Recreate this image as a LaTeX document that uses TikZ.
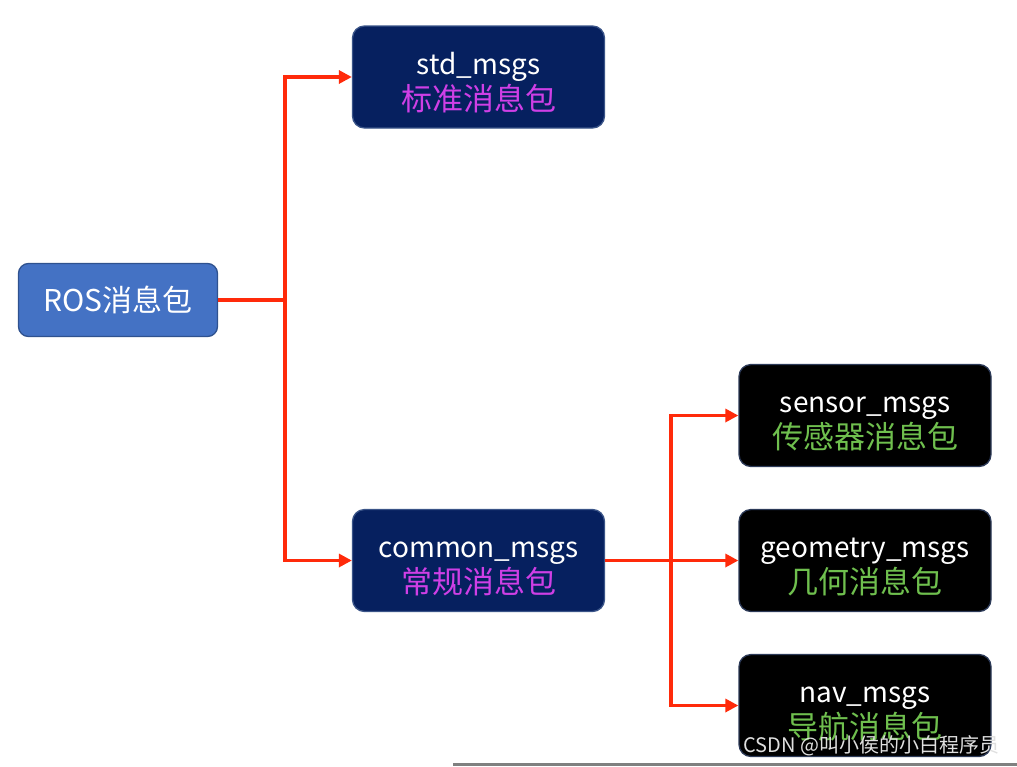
\documentclass[tikz,border=0pt]{standalone}
\usepackage{fontspec}
\setmainfont{Noto Sans CJK SC}
\usetikzlibrary{arrows.meta}

\definecolor{rosblue}{HTML}{4472C4}
\definecolor{rosedge}{HTML}{2F528F}
\definecolor{navyfill}{HTML}{06205F}
\definecolor{navyedge}{HTML}{3A5488}
\definecolor{blackedge}{HTML}{2C3A58}
\definecolor{pinktext}{HTML}{CF3FE6}
\definecolor{greentext}{HTML}{6FBF4E}
\definecolor{linkred}{HTML}{FF2A0A}

\newcommand{\cjkline}[2]{{\fontsize{31}{36}\selectfont\color{#1}#2}}
\newcommand{\topstrut}{\rule{0pt}{33pt}}

\begin{document}
\begin{tikzpicture}[x=1pt,y=-1pt, every node/.style={font=\fontsize{28}{36}\selectfont, text=white, align=center},
	pkg/.style={draw, line width=1.3pt, rounded corners=12pt, minimum width=252pt, minimum height=102pt, inner sep=0pt},
	link/.style={draw=linkred, line width=3.2pt, -{Triangle[length=13pt,width=13pt]}}]
	\useasboundingbox (0,0) rectangle (1017,766);
	\node[draw=rosedge, fill=rosblue, line width=1.3pt, rounded corners=10pt, minimum width=199pt, minimum height=73pt, font=\fontsize{30}{36}\selectfont] (ros) at (118,300) {ROS消息包};
	\node[pkg, draw=navyedge, fill=navyfill] (std) at (478.5,77) {\topstrut std\_msgs\\[0pt]\cjkline{pinktext}{标准消息包}};
	\node[pkg, draw=navyedge, fill=navyfill] (common) at (478.5,560.5) {\topstrut common\_msgs\\[0pt]\cjkline{pinktext}{常规消息包}};
	\foreach \n/\t/\c/\y in {sensor/sensor\_msgs/传感器消息包/415.5, geometry/geometry\_msgs/几何消息包/560.5, nav/nav\_msgs/导航消息包/705.5} {
		\node[pkg, draw=blackedge, fill=black] (\n) at (865,\y) {\topstrut\t\\[0pt]\cjkline{greentext}{\c}};
	}
	\coordinate (fork) at (285,300);
	\coordinate (subfork) at (671,560.5);
	\draw[link] (ros.east) -- (fork) |- (std.west);
	\draw[link] (fork) |- (common.west);
	\draw[link] (common.east) -- (geometry.west);
	\draw[link] (subfork) |- (sensor.west);
	\draw[link] (subfork) |- (nav.west);
	% watermark and bottom rule
	\node[anchor=east, text=white!75!gray, font=\fontsize{20}{22}\selectfont] (mark) at (1003,746) {CSDN @叫小侯的小白程序员};
	\draw[gray, line width=3pt] (453,764.5) -- (1017,764.5);
\end{tikzpicture}
\end{document}
